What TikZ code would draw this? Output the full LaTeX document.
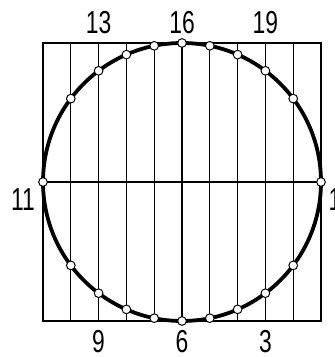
\documentclass[tikz,border=0pt]{standalone}
\usepackage{fontspec}
\setmainfont{Liberation Sans}[FakeStretch=0.72]
\begin{document}
\begin{tikzpicture}[
  x=0.8cm, y=0.8cm,
  gridline/.style = {line width=1pt, black},
  outline/.style = {line width=3.1pt, black},
  division/.style = {circle, draw, fill=white, line width=0.8pt, inner sep=0pt, minimum size=2.5mm},
  numlbl/.style = {font=\fontsize{26}{26}\selectfont, inner sep=0pt}
]
  \useasboundingbox (-1.547,-1.295) rectangle (10.468,11.547);
  % frame, strips and middle line
  \draw[gridline] (0,0) rectangle (10,10);
  \foreach \k in {1,...,9}
    \draw[gridline] (\k,0) -- (\k,10);
  \draw[gridline] (0,5) -- (10,5);
  % the circle
  \draw[outline] (5,5) circle (5);
  % division points, numbered clockwise from the right
  \node[division] (p1) at (10,5) {};
  \node[division] (p11) at (0,5) {};
  \foreach \k in {1,...,9} {
    \pgfmathsetmacro\h{sqrt(25-(\k-5)^2)}
    \pgfmathtruncatemacro\up{\k+11}
    \pgfmathtruncatemacro\dn{11-\k}
    \node[division] (p\up) at (\k,5+\h) {};
    \node[division] (p\dn) at (\k,5-\h) {};
  }
  % numbers
  \node[numlbl] (n13) at (2,10.74) {13};
  \node[numlbl] (n16) at (5,10.74) {16};
  \node[numlbl] (n19) at (8,10.74) {19};
  \node[numlbl] (n11) at (-0.72,4.35) {11};
  \node[numlbl] (n1) at (10.5,4.35) {1};
  \node[numlbl] (n9) at (2,-0.74) {9};
  \node[numlbl] (n6) at (5,-0.74) {6};
  \node[numlbl] (n3) at (8,-0.74) {3};
\end{tikzpicture}
\end{document}
